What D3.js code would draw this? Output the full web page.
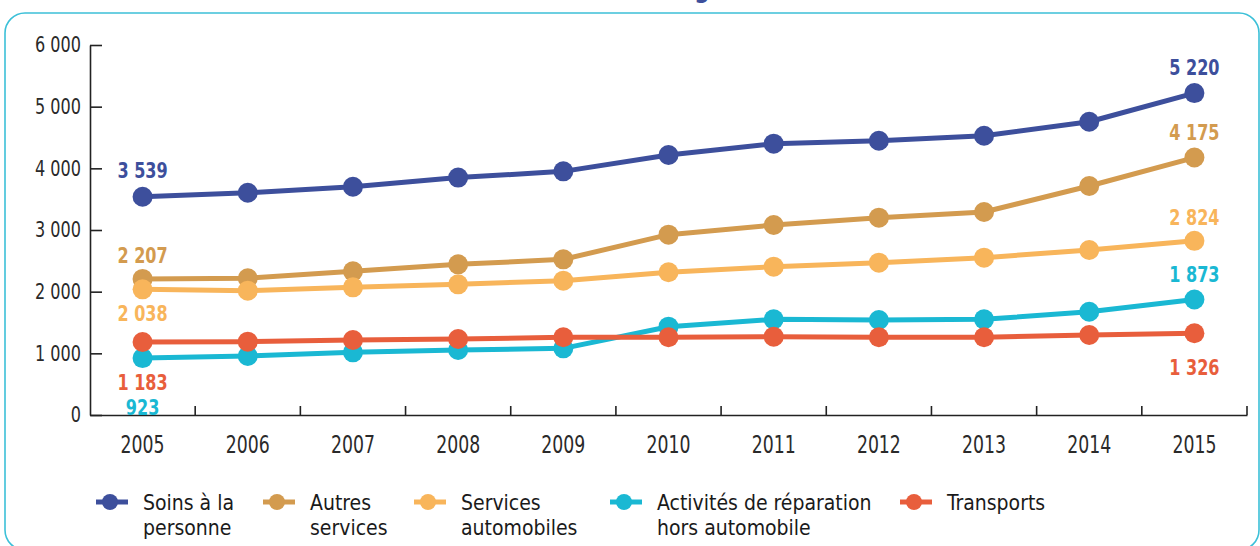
<!DOCTYPE html>
<html><head><meta charset="utf-8">
<script src="https://cdn.jsdelivr.net/npm/d3@7"></script>
<style>
html,body{margin:0;padding:0;background:#fff;}
svg{display:block;font-family:"DejaVu Sans Condensed","DejaVu Sans",sans-serif;}
</style></head>
<body>
<svg id="chart" width="1260" height="546"></svg>
<script>
const years = ["2005","2006","2007","2008","2009","2010","2011","2012","2013","2014","2015"];
const soins      = [3539,3604,3702,3850,3951,4216,4400,4448,4529,4756,5220];
const autres     = [2207,2218,2330,2443,2524,2924,3081,3200,3292,3713,4175];
const servAuto   = [2038,2016,2070,2119,2178,2314,2405,2470,2551,2676,2824];
const activites  = [923,957,1016,1054,1081,1432,1551,1540,1551,1675,1873];
const transports = [1183,1189,1216,1232,1260,1260,1270,1260,1260,1297,1326];
const yTicks = [0,1000,2000,3000,4000,5000,6000];
const seriesNames = [["Soins à la","personne"],["Autres","services"],["Services","automobiles"],["Activités de réparation","hors automobile"],["Transports"]];
const colors = ["#3d4f9c","#d39b4f","#f8b55b","#1ab8d3","#e85e3c"];

// label placement (style): first & last value labels, vertical offset in px
const labelDy = [[-19,-18],[-16,-18],[32,-16],[57,-17],[48,42]];
const legendX = [96,263,414,610,900];

const seriesVals = [soins, autres, servAuto, activites, transports];

const FONT = "'DejaVu Sans Condensed','DejaVu Sans',sans-serif";
function squeeze(sel, f){
  sel.each(function(){
    const w = this.getComputedTextLength();
    d3.select(this).attr("textLength", w*f).attr("lengthAdjust","spacingAndGlyphs");
  });
}

const svg = d3.select("#chart");
const fmt = d3.formatLocale({decimal:",", thousands:" ", grouping:[3], currency:["","€"]}).format(",d");

// frame
svg.append("rect").attr("x",5).attr("y",13).attr("width",1254).attr("height",537)
  .attr("rx",20).attr("fill","none").attr("stroke","#3cc0d8").attr("stroke-width",1.6);
// partially visible title descender
svg.append("text").attr("x",702).attr("y",-2).attr("text-anchor","middle")
  .attr("font-size",24).attr("font-weight","bold").attr("fill","#3d4f9c").text("g");

const x = d3.scaleBand().domain(years).range([90,1247]).padding(0);
const y = d3.scaleLinear().domain([0,6000]).range([415,45]);
const cx = d => x(d) + x.bandwidth()/2;

// Y axis
const gy = svg.append("g").attr("transform","translate(90,0)")
  .call(d3.axisLeft(y).tickValues(yTicks).tickFormat(fmt).tickSizeInner(-12).tickSizeOuter(0).tickPadding(9));
gy.select(".domain").attr("stroke","#222").attr("stroke-width",1.6);
gy.selectAll(".tick line").attr("stroke","#222").attr("stroke-width",1.6);
gy.selectAll(".tick text").attr("font-size",21).attr("fill","#2a2a2a").attr("font-family",FONT);
squeeze(gy.selectAll(".tick text"), 0.85);

// X axis
const gx = svg.append("g").attr("transform","translate(0,415)")
  .call(d3.axisBottom(x).tickSize(0).tickPadding(21));
gx.select(".domain").attr("stroke","#222").attr("stroke-width",1.6);
gx.selectAll(".tick text").attr("font-size",24).attr("fill","#2a2a2a").attr("font-family",FONT);
squeeze(gx.selectAll(".tick text"), 0.8);
// boundary ticks pointing up
svg.append("g").selectAll("line").data(years.slice(1).concat(["end"])).join("line")
  .attr("x1",d => d==="end" ? x.range()[1] : x(d))
  .attr("x2",d => d==="end" ? x.range()[1] : x(d))
  .attr("y1",y(0)).attr("y2",y(0)-9)
  .attr("stroke","#222").attr("stroke-width",1.6);

const line = d3.line().x((d,i)=>cx(years[i])).y(d=>y(d));

seriesVals.forEach((vals,si)=>{
  const g = svg.append("g");
  g.append("path").datum(vals).attr("d",line).attr("fill","none")
    .attr("stroke",colors[si]).attr("stroke-width",5).attr("stroke-linejoin","round");
  g.selectAll("circle").data(vals).join("circle")
    .attr("cx",(d,i)=>cx(years[i])).attr("cy",d=>y(d)).attr("r",10).attr("fill",colors[si]);
  [0, vals.length-1].forEach((idx,k)=>{
    const t = g.append("text").attr("x",cx(years[idx])).attr("y",y(vals[idx])+labelDy[si][k])
      .attr("text-anchor","middle").attr("font-size",21).attr("font-weight","bold")
      .attr("fill",colors[si]).text(fmt(vals[idx]));
    squeeze(t, 0.85);
  });
});

// Legend
seriesNames.forEach((lines,si)=>{
  const lx = legendX[si], ly = 502;
  const g = svg.append("g");
  g.append("line").attr("x1",lx).attr("x2",lx+32).attr("y1",ly).attr("y2",ly)
    .attr("stroke",colors[si]).attr("stroke-width",5);
  g.append("circle").attr("cx",lx+14).attr("cy",ly).attr("r",8).attr("fill",colors[si]);
  lines.forEach((s,j)=>{
    const t = g.append("text").attr("x",lx+47).attr("y",ly+8+j*25)
      .attr("font-size",21).attr("fill","#1a1a1a").text(s);
    squeeze(t, 1.0);
  });
});
</script>
</body></html>
